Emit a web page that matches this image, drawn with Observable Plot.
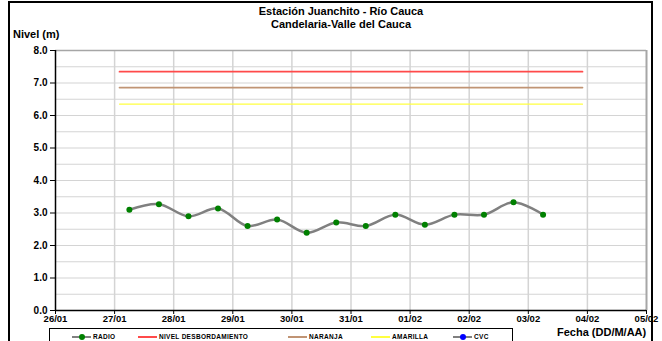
<!DOCTYPE html>
<html>
<head>
<meta charset="utf-8">
<script src="https://cdn.jsdelivr.net/npm/d3@7"></script>
<script src="https://cdn.jsdelivr.net/npm/@observablehq/plot@0.6"></script>
<style>
  html, body { margin: 0; padding: 0; background: #fff; }
  body { width: 662px; height: 341px; position: relative; overflow: hidden; font-family: Arial, "Liberation Sans", sans-serif; }
  #chart { position: absolute; left: 0; top: 0; }
  #chart svg text { font-weight: bold; fill: #000; }
  .abs { position: absolute; font-weight: bold; color: #000; white-space: nowrap; }
  #frame { position: absolute; left: 8px; top: 1px; width: 645px; height: 350px; border: 2px solid #000; box-sizing: border-box; }
  #legend { position: absolute; left: 49px; top: 328px; width: 464px; height: 20px; border: 1px solid #000; box-sizing: border-box; }
  .lg { position: absolute; top: 4px; font-size: 6.5px; font-weight: bold; letter-spacing: 0.3px; }
  .sw { position: absolute; top: 7px; height: 2px; }
  .mk { position: absolute; top: 5px; width: 6px; height: 6px; border-radius: 50%; }
</style>
</head>
<body>
<div id="frame"></div>
<div id="chart"></div>
<div class="abs" style="left:0;width:682px;text-align:center;top:5px;font-size:11px;line-height:12.5px;">Estación Juanchito - Río Cauca<br>Candelaria-Valle del Cauca</div>
<div class="abs" style="left:13px;top:28px;font-size:11px;">Nivel (m)</div>
<div class="abs" style="left:557px;top:326px;font-size:11px;">Fecha (DD/M/AA)</div>
<div id="legend"></div>
<script>
// ---- data ----
const radioTimes = [
  "2025-01-27T06:00","2025-01-27T18:00","2025-01-28T06:00","2025-01-28T18:00",
  "2025-01-29T06:00","2025-01-29T18:00","2025-01-30T06:00","2025-01-30T18:00",
  "2025-01-31T06:00","2025-01-31T18:00","2025-02-01T06:00","2025-02-01T18:00",
  "2025-02-02T06:00","2025-02-02T18:00","2025-02-03T06:00"
];
const radioValues = [3.10, 3.27, 2.90, 3.14, 2.60, 2.80, 2.39, 2.71, 2.60, 2.95, 2.64, 2.95, 2.95, 3.33, 2.95];
const thresholdNames = ["NIVEL DESBORDAMIENTO", "NARANJA", "AMARILLA"];
const thresholdValues = [7.35, 6.86, 6.35];
const thresholdColors = ["#ff4a4a", "#c09474", "#ffff40"];
const thresholdStart = "2025-01-27T02:00";
const thresholdEnd = "2025-02-03T22:00";
const xTicks = ["2025-01-26","2025-01-27","2025-01-28","2025-01-29","2025-01-30","2025-01-31",
                "2025-02-01","2025-02-02","2025-02-03","2025-02-04","2025-02-05"];
const yTicks = [0, 1, 2, 3, 4, 5, 6, 7, 8];
const yGrid = [0.5, 1, 1.5, 2, 2.5, 3, 3.5, 4, 4.5, 5, 5.5, 6, 6.5, 7, 7.5];
const legendNames = ["RADIO", "NIVEL DESBORDAMIENTO", "NARANJA", "AMARILLA", "CVC"];

// ---- build tables ----
const parse = d3.isoParse;
const radio = radioTimes.map((t, i) => ({date: parse(t), value: radioValues[i]}));
const thresholds = [];
thresholdNames.forEach((n, i) => {
  thresholds.push({name: n, date: parse(thresholdStart), value: thresholdValues[i]});
  thresholds.push({name: n, date: parse(thresholdEnd), value: thresholdValues[i]});
});
const xTickDates = xTicks.map(d => parse(d + "T00:00"));
const fmt = d3.timeFormat("%d/%m");

const chart = Plot.plot({
  width: 662,
  height: 341,
  marginLeft: 55,
  marginRight: 16,
  marginTop: 50,
  marginBottom: 31,
  style: {fontFamily: "Arial, 'Liberation Sans', sans-serif", fontSize: "10px", fontWeight: "bold", color: "#000", background: "transparent"},
  x: {type: "time", domain: [xTickDates[0], xTickDates[xTickDates.length - 1]]},
  y: {domain: [0, 8]},
  color: {domain: thresholdNames, range: thresholdColors},
  marks: [
    Plot.ruleY(yGrid, {stroke: "#d4d4d4", strokeWidth: 1.2}),
    Plot.ruleX(xTickDates.slice(1, -1), {stroke: "#d4d4d4", strokeWidth: 1.5}),
    Plot.ruleY([8], {stroke: "#a6a6a6", strokeWidth: 1.5}),
    Plot.ruleX([xTickDates[xTickDates.length - 1]], {stroke: "#a6a6a6", strokeWidth: 2}),
    Plot.line(thresholds, {x: "date", y: "value", z: "name", stroke: "name", strokeWidth: d => d.name === "AMARILLA" ? 1.2 : 1.8}),
    Plot.line(radio, {x: "date", y: "value", stroke: "#808080", strokeWidth: 2.5, curve: "catmull-rom"}),
    Plot.dot(radio, {x: "date", y: "value", fill: "#008000", r: 3}),
    Plot.axisY({ticks: yTicks, tickFormat: d => d.toFixed(1), tickSize: 5, tickPadding: 3, label: null, stroke: "#000", fontWeight: "bold", fontSize: "10px"}),
    Plot.axisX({ticks: xTickDates, tickFormat: fmt, tickSize: 4, tickPadding: 1, label: null, fontSize: "9.5px", fontWeight: "bold"}),
    Plot.ruleX([xTickDates[0]], {stroke: "#000", strokeWidth: 1.5}),
    Plot.ruleY([0], {stroke: "#000", strokeWidth: 1.5})
  ]
});
document.getElementById("chart").appendChild(chart);

// ---- legend ----
const leg = document.getElementById("legend");
const legendColors = ["#808080", "#ff4a4a", "#c09474", "#ffff40", "#808080"];
const markerColors = ["#008000", null, null, null, "#0000ff"];
const legendX = [22, 88, 238, 321, 403];
legendNames.forEach((n, i) => {
  const x0 = legendX[i];
  const sw = document.createElement("div");
  sw.className = "sw";
  sw.style.left = x0 + "px"; sw.style.width = "19px"; sw.style.background = legendColors[i];
  leg.appendChild(sw);
  if (markerColors[i]) {
    const mk = document.createElement("div");
    mk.className = "mk";
    mk.style.left = (x0 + 6.5) + "px"; mk.style.background = markerColors[i];
    leg.appendChild(mk);
  }
  const t = document.createElement("div");
  t.className = "lg";
  t.style.left = (x0 + 21) + "px";
  t.textContent = n;
  leg.appendChild(t);
});
</script>
</body>
</html>
